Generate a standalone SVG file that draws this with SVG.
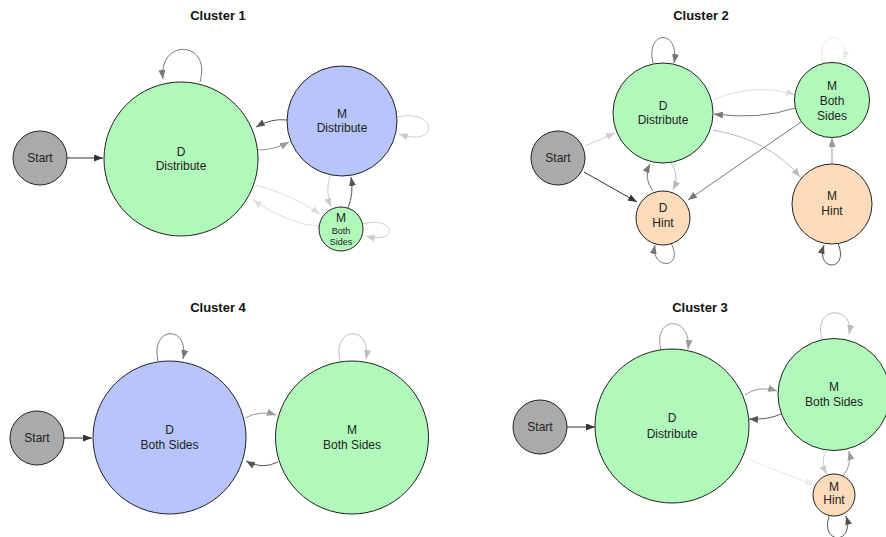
<svg xmlns="http://www.w3.org/2000/svg" width="886" height="537" viewBox="0 0 886 537">
<style>
text{font-family:"Liberation Sans",Arial,Helvetica,sans-serif;fill:#222;text-anchor:middle}
.title{font-size:13px;font-weight:bold;fill:#111}
.lbl{font-size:12px}
.sm{font-size:9px}
circle{stroke:#222;stroke-width:1}
.g{fill:#b1f9bb}.b{fill:#b7c5fb}.o{fill:#fddcbb}.s{fill:#aaaaaa}
path{fill:none;stroke-width:1}
.k1{stroke:#333;marker-end:url(#m1)}
.k2{stroke:#555;marker-end:url(#m2)}
.k3{stroke:#777;marker-end:url(#m3)}
.k4{stroke:#999;marker-end:url(#m4)}
.k5{stroke:#bbb;marker-end:url(#m5)}
.k6{stroke:#ccc;marker-end:url(#m6)}
.k7{stroke:#ddd;marker-end:url(#m7)}
.k8{stroke:#eaeaea;marker-end:url(#m8)}
</style>
<defs>
<marker id="m1" markerUnits="userSpaceOnUse" markerWidth="10" markerHeight="8" refX="9" refY="3.5" orient="auto"><path d="M0,0L9,3.5L0,7z" style="fill:#333;stroke:none"/></marker>
<marker id="m2" markerUnits="userSpaceOnUse" markerWidth="10" markerHeight="8" refX="9" refY="3.5" orient="auto"><path d="M0,0L9,3.5L0,7z" style="fill:#555;stroke:none"/></marker>
<marker id="m3" markerUnits="userSpaceOnUse" markerWidth="10" markerHeight="8" refX="9" refY="3.5" orient="auto"><path d="M0,0L9,3.5L0,7z" style="fill:#777;stroke:none"/></marker>
<marker id="m4" markerUnits="userSpaceOnUse" markerWidth="10" markerHeight="8" refX="9" refY="3.5" orient="auto"><path d="M0,0L9,3.5L0,7z" style="fill:#999;stroke:none"/></marker>
<marker id="m5" markerUnits="userSpaceOnUse" markerWidth="10" markerHeight="8" refX="9" refY="3.5" orient="auto"><path d="M0,0L9,3.5L0,7z" style="fill:#bbb;stroke:none"/></marker>
<marker id="m6" markerUnits="userSpaceOnUse" markerWidth="10" markerHeight="8" refX="9" refY="3.5" orient="auto"><path d="M0,0L9,3.5L0,7z" style="fill:#ccc;stroke:none"/></marker>
<marker id="m7" markerUnits="userSpaceOnUse" markerWidth="10" markerHeight="8" refX="9" refY="3.5" orient="auto"><path d="M0,0L9,3.5L0,7z" style="fill:#ddd;stroke:none"/></marker>
<marker id="m8" markerUnits="userSpaceOnUse" markerWidth="10" markerHeight="8" refX="9" refY="3.5" orient="auto"><path d="M0,0L9,3.5L0,7z" style="fill:#eaeaea;stroke:none"/></marker>
</defs>
<rect width="886" height="537" fill="#ffffff"/>
<g id="titles">
<text class="title" x="218" y="20">Cluster 1</text>
<text class="title" x="701" y="20">Cluster 2</text>
<text class="title" x="218" y="312">Cluster 4</text>
<text class="title" x="700" y="312">Cluster 3</text>
</g>
<g id="connectors">
<path class="k1" d="M67,158 L103,158"/>
<path class="k3" d="M200,82 C212,40 158,38 163,79"/>
<path class="k2" d="M287,120 Q272,118 256,127"/>
<path class="k4" d="M258,150 Q274,150 289,142"/>
<path class="k6" d="M397,117 C438,108 440,148 399,134"/>
<path class="k7" d="M256,185 Q292,195 320,214"/>
<path class="k7" d="M319,226 Q290,225 253,200"/>
<path class="k6" d="M330,176 Q325,192 331,207"/>
<path class="k2" d="M348,208 Q354,193 351,177"/>
<path class="k6" d="M363,224 C395,215 400,245 366,236"/>

<path class="k6" d="M585,146 L615,133"/>
<path class="k1" d="M584,172 L637,202"/>
<path class="k3" d="M653,63 C645,30 680,28 674,63"/>
<path class="k7" d="M713,100 Q755,82 795,95"/>
<path class="k3" d="M795,108 Q760,120 714,114"/>
<path class="k5" d="M713,130 Q770,140 800,177"/>
<path class="k3" d="M801,122 L688,200"/>
<path class="k4" d="M832,164 L832,138"/>
<path class="k5" d="M671,163 Q680,175 673,190"/>
<path class="k3" d="M653,191 Q643,178 650,164"/>
<path class="k3" d="M671,243 C685,270 650,270 655,245"/>
<path class="k2" d="M838,243 C850,272 815,272 824,245"/>
<path class="k8" d="M823,63 C815,30 850,30 844,60"/>

<path class="k1" d="M63,438 L92,438"/>
<path class="k3" d="M158,361 C150,325 190,325 183,359"/>
<path class="k5" d="M340,361 C332,325 372,325 366,359"/>
<path class="k4" d="M245,418 Q260,410 276,415"/>
<path class="k2" d="M278,462 Q262,470 246,461"/>

<path class="k1" d="M567,427 L595,427"/>
<path class="k4" d="M661,350 C652,315 692,315 688,349"/>
<path class="k5" d="M822,339 C812,305 855,305 849,334"/>
<path class="k4" d="M745,395 Q758,385 777,391"/>
<path class="k2" d="M781,414 Q768,420 749,419"/>
<path class="k8" d="M745,458 L814,485"/>
<path class="k6" d="M826,451 Q820,462 827,474"/>
<path class="k4" d="M843,476 Q852,465 849,451"/>
<path class="k2" d="M829,516 C820,545 855,545 846,516"/>
</g>

<g id="c1-start"><circle class="s" cx="40" cy="158" r="27"/><text class="lbl" x="40" y="162">Start</text></g>
<g id="c1-d-distribute"><circle class="g" cx="181" cy="159" r="77"/><text class="lbl" x="181" y="156">D</text><text class="lbl" x="181" y="170">Distribute</text></g>
<g id="c1-m-distribute"><circle class="b" cx="342" cy="121" r="55"/><text class="lbl" x="342" y="118">M</text><text class="lbl" x="342" y="132">Distribute</text></g>
<g id="c1-m-bothsides"><circle class="g" cx="341" cy="229" r="22"/><text class="lbl" x="341" y="222">M</text><text class="sm" x="341" y="234">Both</text><text class="sm" x="341" y="245">Sides</text></g>

<g id="c2-start"><circle class="s" cx="558" cy="158" r="27"/><text class="lbl" x="558" y="162">Start</text></g>
<g id="c2-d-distribute"><circle class="g" cx="663" cy="113" r="50"/><text class="lbl" x="663" y="110">D</text><text class="lbl" x="663" y="124">Distribute</text></g>
<g id="c2-m-bothsides"><circle class="g" cx="832" cy="100" r="37.5"/><text class="lbl" x="832" y="90">M</text><text class="lbl" x="832" y="105">Both</text><text class="lbl" x="832" y="120">Sides</text></g>
<g id="c2-d-hint"><circle class="o" cx="663" cy="218" r="27"/><text class="lbl" x="663" y="212">D</text><text class="lbl" x="663" y="227">Hint</text></g>
<g id="c2-m-hint"><circle class="o" cx="832" cy="204" r="40"/><text class="lbl" x="832" y="200">M</text><text class="lbl" x="832" y="215">Hint</text></g>

<g id="c4-start"><circle class="s" cx="37" cy="438" r="27"/><text class="lbl" x="37" y="442">Start</text></g>
<g id="c4-d-bothsides"><circle class="b" cx="169.5" cy="437.5" r="76.5"/><text class="lbl" x="169.5" y="434">D</text><text class="lbl" x="169.5" y="449">Both Sides</text></g>
<g id="c4-m-bothsides"><circle class="g" cx="352" cy="437.5" r="76.5"/><text class="lbl" x="352" y="434">M</text><text class="lbl" x="352" y="449">Both Sides</text></g>

<g id="c3-start"><circle class="s" cx="540" cy="427" r="27"/><text class="lbl" x="540" y="431">Start</text></g>
<g id="c3-d-distribute"><circle class="g" cx="672" cy="426" r="77"/><text class="lbl" x="672" y="422">D</text><text class="lbl" x="672" y="438">Distribute</text></g>
<g id="c3-m-bothsides"><circle class="g" cx="834" cy="394.5" r="56"/><text class="lbl" x="834" y="391">M</text><text class="lbl" x="834" y="406">Both Sides</text></g>
<g id="c3-m-hint"><circle class="o" cx="834" cy="495" r="21"/><text class="lbl" x="834" y="491">M</text><text class="lbl" x="834" y="504">Hint</text></g>
</svg>
